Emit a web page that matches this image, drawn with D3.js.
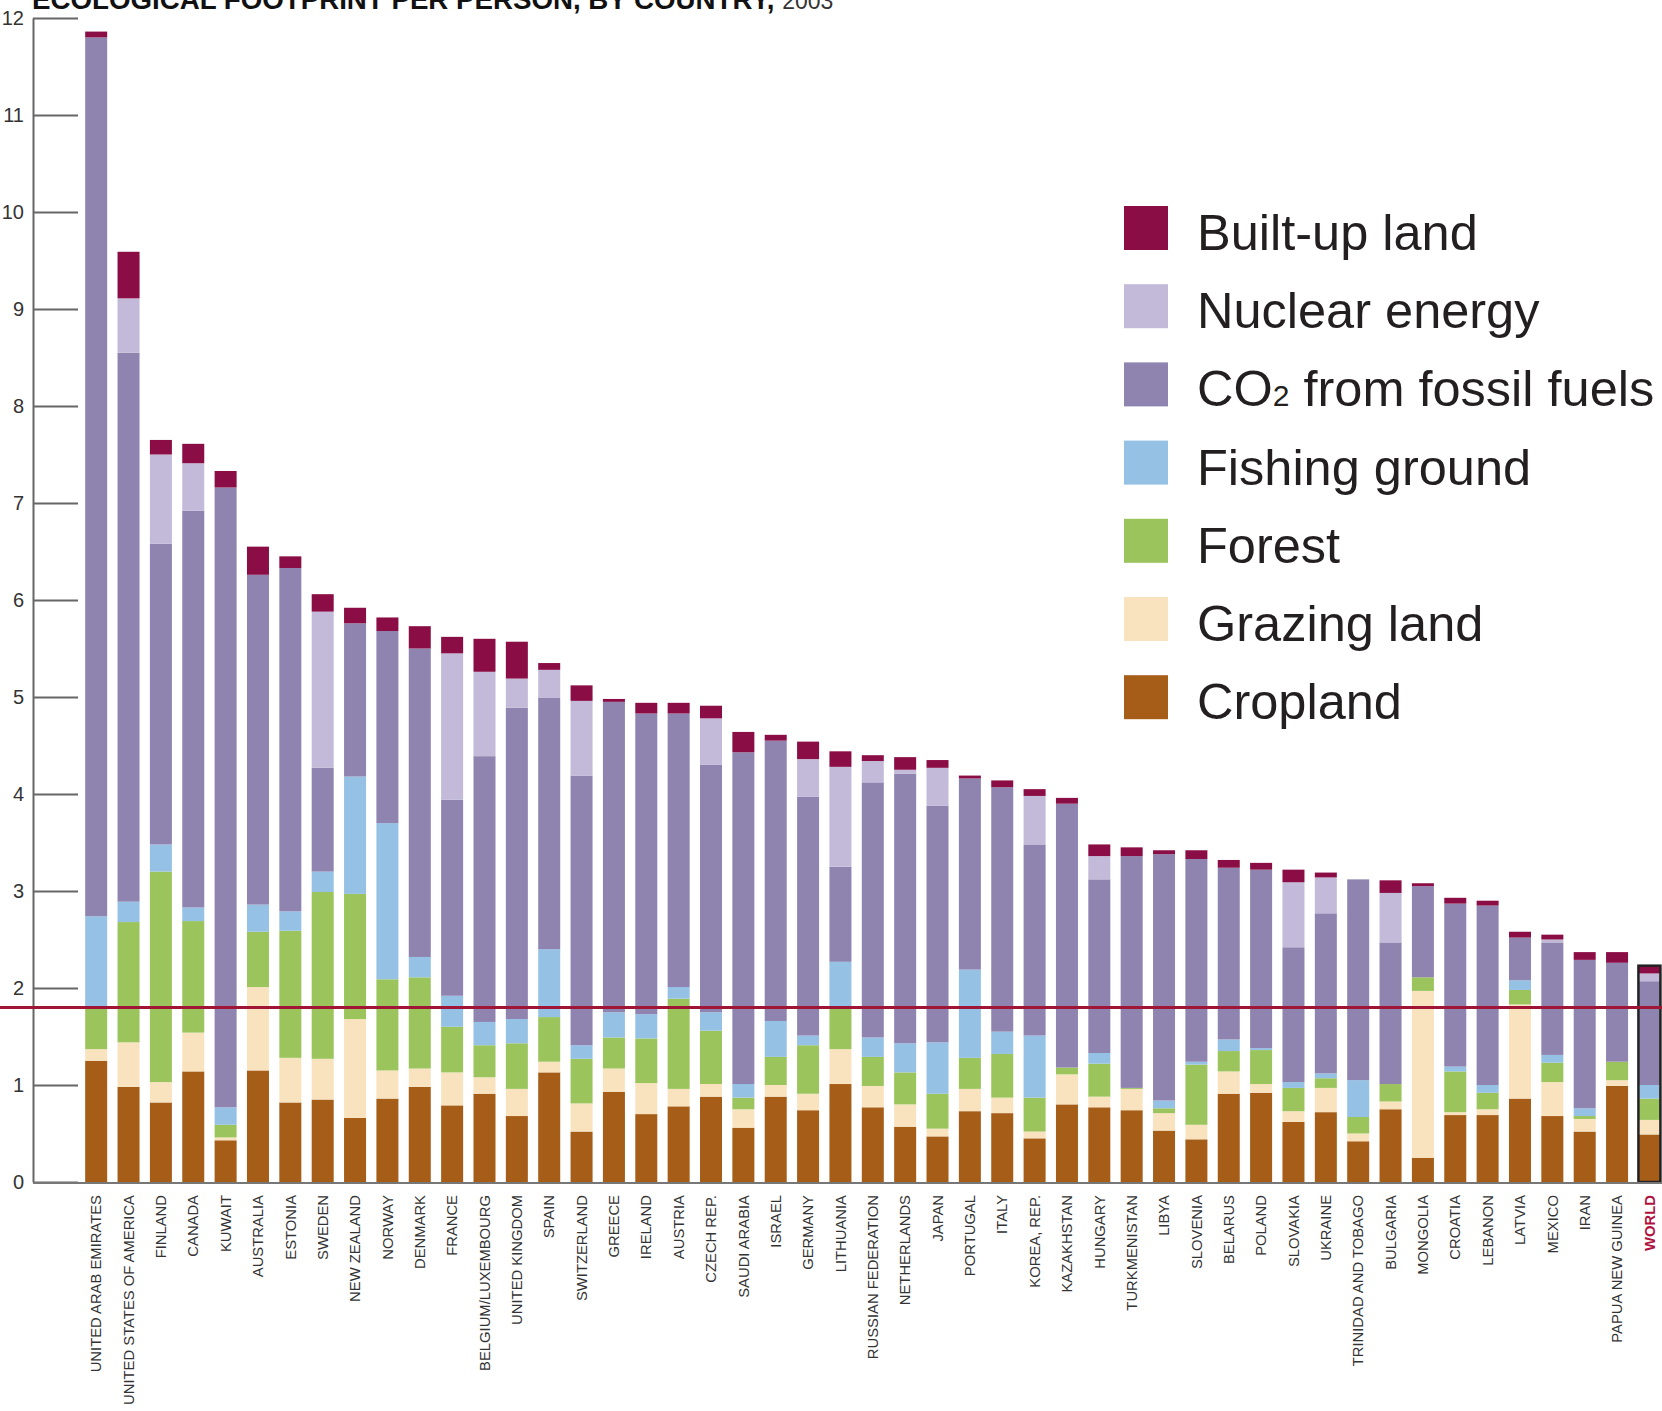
<!DOCTYPE html>
<html><head><meta charset="utf-8">
<script src="https://cdn.jsdelivr.net/npm/d3@7"></script>
<style>body{margin:0;background:#fff}svg{display:block}</style>
</head><body>
<svg id="chart" width="1662" height="1411"></svg>
<script>
// ---------- DATA ----------
const countries = ["UNITED ARAB EMIRATES","UNITED STATES OF AMERICA","FINLAND","CANADA","KUWAIT","AUSTRALIA","ESTONIA","SWEDEN","NEW ZEALAND","NORWAY","DENMARK","FRANCE","BELGIUM/LUXEMBOURG","UNITED KINGDOM","SPAIN","SWITZERLAND","GREECE","IRELAND","AUSTRIA","CZECH REP.","SAUDI ARABIA","ISRAEL","GERMANY","LITHUANIA","RUSSIAN FEDERATION","NETHERLANDS","JAPAN","PORTUGAL","ITALY","KOREA, REP.","KAZAKHSTAN","HUNGARY","TURKMENISTAN","LIBYA","SLOVENIA","BELARUS","POLAND","SLOVAKIA","UKRAINE","TRINIDAD AND TOBAGO","BULGARIA","MONGOLIA","CROATIA","LEBANON","LATVIA","MEXICO","IRAN","PAPUA NEW GUINEA","WORLD"];
const cropland = [1.25,0.98,0.82,1.14,0.43,1.15,0.82,0.85,0.66,0.86,0.98,0.79,0.91,0.68,1.13,0.52,0.93,0.70,0.78,0.88,0.56,0.88,0.74,1.01,0.77,0.57,0.47,0.73,0.71,0.45,0.80,0.77,0.74,0.53,0.44,0.91,0.92,0.62,0.72,0.42,0.75,0.25,0.69,0.69,0.86,0.68,0.52,0.99,0.49];
const grazing  = [0.12,0.46,0.21,0.40,0.03,0.86,0.46,0.42,1.02,0.29,0.19,0.34,0.17,0.28,0.11,0.29,0.24,0.32,0.18,0.13,0.19,0.12,0.17,0.36,0.22,0.23,0.08,0.23,0.16,0.07,0.31,0.11,0.22,0.18,0.15,0.23,0.09,0.11,0.25,0.08,0.08,1.72,0.03,0.06,0.97,0.35,0.13,0.06,0.15];
const forest   = [0.43,1.24,2.17,1.15,0.13,0.57,1.31,1.72,1.29,0.94,0.94,0.47,0.33,0.47,0.46,0.46,0.32,0.46,0.93,0.55,0.12,0.29,0.50,0.42,0.30,0.33,0.36,0.32,0.45,0.35,0.07,0.34,0.01,0.05,0.62,0.21,0.35,0.24,0.10,0.17,0.18,0.14,0.42,0.17,0.15,0.20,0.03,0.19,0.22];
const fishing  = [0.94,0.21,0.28,0.14,0.18,0.28,0.20,0.21,1.21,1.61,0.21,0.32,0.24,0.25,0.70,0.14,0.26,0.25,0.12,0.19,0.14,0.37,0.10,0.48,0.20,0.30,0.53,0.91,0.23,0.64,0.00,0.11,0.00,0.08,0.03,0.12,0.02,0.06,0.05,0.38,0.00,0.00,0.05,0.08,0.10,0.08,0.08,0.00,0.14];
const co2      = [9.06,5.66,3.10,4.09,6.39,3.40,3.54,1.07,1.58,1.98,3.18,2.02,2.74,3.21,2.59,2.78,3.20,3.10,2.82,2.55,3.42,2.89,2.46,0.98,2.63,2.78,2.44,1.97,2.52,1.97,2.72,1.79,2.39,2.54,2.09,1.77,1.84,1.39,1.65,2.07,1.46,0.94,1.68,1.85,0.44,1.16,1.53,1.02,1.07];
const nuclear  = [0.00,0.56,0.92,0.49,0.00,0.00,0.00,1.61,0.00,0.00,0.00,1.51,0.87,0.30,0.29,0.77,0.00,0.00,0.00,0.48,0.00,0.00,0.39,1.03,0.22,0.04,0.39,0.00,0.00,0.50,0.00,0.24,0.00,0.00,0.00,0.00,0.00,0.67,0.37,0.00,0.51,0.00,0.00,0.00,0.00,0.03,0.00,0.00,0.08];
const builtUp  = [0.06,0.48,0.15,0.20,0.17,0.29,0.12,0.18,0.16,0.14,0.23,0.17,0.34,0.38,0.07,0.16,0.03,0.11,0.11,0.13,0.21,0.06,0.18,0.16,0.06,0.13,0.08,0.03,0.07,0.07,0.06,0.12,0.09,0.04,0.09,0.08,0.07,0.13,0.05,0.00,0.13,0.03,0.06,0.05,0.06,0.05,0.08,0.11,0.08];
const seriesKeys   = ["cropland","grazing","forest","fishing","co2","nuclear","builtUp"];
const seriesColors = ["#a65d18","#f9e3bf","#9bc55c","#95c1e5","#8f84b0","#c2bad8","#8a0e45"];
const legendLabels = ["Built-up land","Nuclear energy","CO2 from fossil fuels","Fishing ground","Forest","Grazing land","Cropland"];
const legendKeys   = ["builtUp","nuclear","co2","fishing","forest","grazing","cropland"];
const yTicks = [0,1,2,3,4,5,6,7,8,9,10,11,12];
const worldBiocapacity = 1.8;
const titleMain = "ECOLOGICAL FOOTPRINT PER PERSON, BY COUNTRY, ";
const titleYear = "2003";

// ---------- BUILD ----------
const seriesArrays = {cropland, grazing, forest, fishing, co2, nuclear, builtUp};
const rows = countries.map((c,i)=>{
  const r = {country:c};
  seriesKeys.forEach(k=>r[k]=seriesArrays[k][i]);
  return r;
});
const color = d3.scaleOrdinal().domain(seriesKeys).range(seriesColors);

const W = 1662, H = 1411;
const svg = d3.select("#chart");
const font = "'Liberation Sans', Arial, Helvetica, sans-serif";

const x = d3.scaleBand().domain(countries).range([80, 1665.6]).paddingInner(0.32).paddingOuter(0.16);
const y = d3.scaleLinear().domain([0,12]).range([1182, 18]);

const stack = d3.stack().keys(seriesKeys)(rows);

// bars
svg.append("g").selectAll("g").data(stack).join("g")
  .attr("fill", d=>color(d.key))
  .selectAll("rect").data(d=>d).join("rect")
  .attr("x", d=>x(d.data.country))
  .attr("width", x.bandwidth())
  .attr("y", d=>y(d[1]))
  .attr("height", d=>Math.max(0, y(d[0]) - y(d[1])));

// world outline
const wi = countries.indexOf("WORLD");
const worldTotal = seriesKeys.reduce((s,k)=>s+seriesArrays[k][wi],0);
svg.append("rect")
  .attr("x", x("WORLD")).attr("width", x.bandwidth())
  .attr("y", y(worldTotal)).attr("height", y(0)-y(worldTotal))
  .attr("fill","none").attr("stroke","#222").attr("stroke-width",2.5);

// y axis
const yAxis = svg.append("g").attr("transform","translate(33,0)")
  .call(d3.axisLeft(y).tickValues(yTicks).tickSize(-45).tickSizeOuter(0).tickPadding(9));
yAxis.select(".domain").attr("stroke","#666").attr("stroke-width",2);
yAxis.selectAll(".tick line").attr("stroke","#666").attr("stroke-width",2);
yAxis.selectAll(".tick text").attr("font-family",font).attr("font-size",20).attr("fill","#333");

// baseline
svg.append("line").attr("x1",33).attr("x2",W).attr("y1",y(0)+1).attr("y2",y(0)+1)
  .attr("stroke","#777").attr("stroke-width",2);

// x axis labels
const xAxis = svg.append("g").attr("transform",`translate(0,${y(0)})`)
  .call(d3.axisBottom(x).tickSize(0));
xAxis.select(".domain").remove();
xAxis.selectAll(".tick text")
  .attr("transform","rotate(-90)")
  .attr("x",-13).attr("y",0).attr("dy","0.35em")
  .style("text-anchor","end")
  .attr("font-family",font).attr("font-size",14.8)
  .attr("fill", d=> d==="WORLD" ? "#b01240" : "#333")
  .attr("font-weight", d=> d==="WORLD" ? "bold" : "normal");

// world biocapacity line
svg.append("line").attr("x1",0).attr("x2",W)
  .attr("y1",y(worldBiocapacity)).attr("y2",y(worldBiocapacity))
  .attr("stroke","#a01535").attr("stroke-width",3);

// title (top edge cropped, as in the reference)
const t = svg.append("text").attr("x",32).attr("y",9)
  .attr("font-family",font).attr("font-size",27.7).attr("font-weight","bold").attr("fill","#111");
t.append("tspan").text(titleMain);
t.append("tspan").attr("font-weight","normal").attr("font-size",23).attr("fill","#333").text(titleYear);

// legend
const lg = svg.append("g").attr("transform","translate(1124,206)");
legendKeys.forEach((k,i)=>{
  const g = lg.append("g").attr("transform",`translate(0,${i*78.2})`);
  g.append("rect").attr("width",44).attr("height",44).attr("fill",color(k));
  const tx = g.append("text").attr("x",73).attr("y",44)
    .attr("font-family",font).attr("font-size",50.5).attr("fill","#231f20");
  const lab = legendLabels[i];
  if (lab.startsWith("CO2")) {
    tx.append("tspan").text("CO");
    tx.append("tspan").attr("font-size",30).text("2");
    tx.append("tspan").text(lab.slice(3));
  } else tx.text(lab);
});
</script>
</body></html>
